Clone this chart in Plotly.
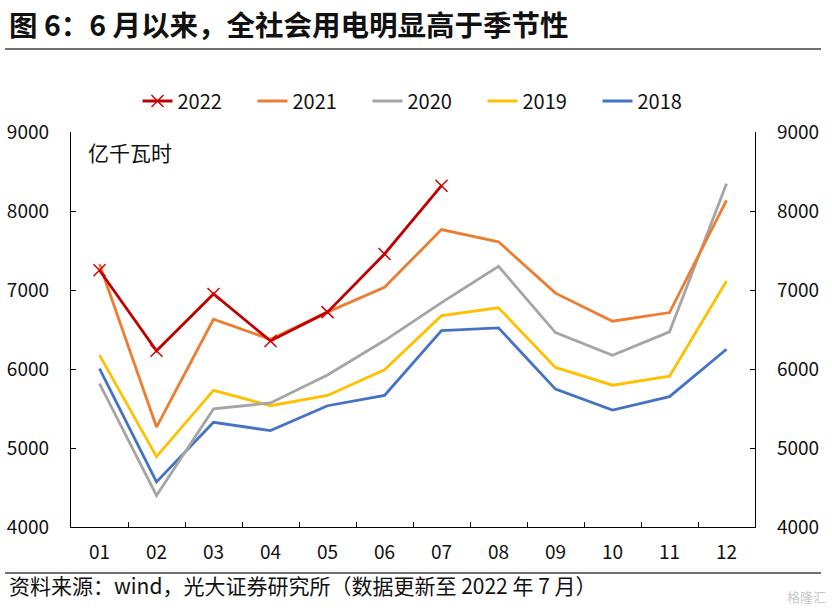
import plotly.graph_objects as go

months = ["01", "02", "03", "04", "05", "06", "07", "08", "09", "10", "11", "12"]
v2022 = [7250, 6230, 6950, 6355, 6720, 7456, 8320]
v2021 = [7330, 5265, 6630, 6375, 6720, 7035, 7765, 7610, 6960, 6605, 6715, 8135]
v2020 = [5815, 4400, 5495, 5570, 5925, 6360, 6840, 7300, 6460, 6175, 6470, 8345]
v2019 = [6175, 4890, 5730, 5535, 5665, 5990, 6675, 6775, 6020, 5795, 5910, 7115]
v2018 = [6005, 4570, 5325, 5220, 5535, 5665, 6485, 6520, 5745, 5480, 5650, 6250]

W, H = 832, 614
L, R, T, B = 71, 755, 132, 527
FONT = "Noto Sans CJK SC"


def px(x):
    return (x - L) / (R - L)


def py(y):
    return (B - y) / (B - T)


fig = go.Figure()
series = [
    ("2018", v2018, "#4472C4", 5),
    ("2019", v2019, "#FFC000", 4),
    ("2020", v2020, "#A5A5A5", 3),
    ("2021", v2021, "#ED7D31", 2),
]
for name, vals, col, rank in series:
    fig.add_trace(go.Scatter(
        x=months[:len(vals)], y=vals, name=name, mode="lines",
        line=dict(color=col, width=2.8), legendrank=rank))
fig.add_trace(go.Scatter(
    x=months[:len(v2022)], y=v2022, name="2022", mode="lines+markers",
    line=dict(color="#C00000", width=2.8),
    marker=dict(symbol="x-thin", size=12, line=dict(color="#D20000", width=1.5), color="#D20000"),
    legendrank=1))
fig.add_trace(go.Scatter(x=[], y=[], yaxis="y2", showlegend=False))

axis_common = dict(showline=True, linecolor="black", linewidth=1.3, ticks="inside",
                   ticklen=5, tickcolor="black", showgrid=False, zeroline=False,
                   tickfont=dict(family=FONT, size=19, color="#111111"))

fig.update_layout(
    width=W, height=H,
    margin=dict(l=L, r=W - R, t=T, b=H - B, autoexpand=False),
    paper_bgcolor="white", plot_bgcolor="white",
    showlegend=True,
    legend=dict(orientation="h", x=px(425), xanchor="center", y=1 + 31 / (B - T), yanchor="middle",
                font=dict(family=FONT, size=20, color="#111111"),
                entrywidth=70, entrywidthmode="pixels", bgcolor="rgba(0,0,0,0)"),
    xaxis=dict(type="category", range=[-0.5, 11.5], tickson="boundaries",
               ticklabelstandoff=8, **axis_common),
    yaxis=dict(range=[4000, 9000], dtick=1000, ticklabelstandoff=17, **axis_common),
    yaxis2=dict(range=[4000, 9000], dtick=1000, overlaying="y", side="right",
                ticklabelstandoff=17, **axis_common),
    shapes=[
        dict(type="line", xref="paper", yref="paper", x0=px(5), x1=px(821), y0=py(49), y1=py(49),
             line=dict(color="#404040", width=1.5)),
        dict(type="line", xref="paper", yref="paper", x0=px(5), x1=px(821), y0=py(573), y1=py(573),
             line=dict(color="#404040", width=1.5)),
    ],
    annotations=[
        dict(text="<b>图 6：6 月以来，全社会用电明显高于季节性</b>", xref="paper", yref="paper",
             x=px(7), y=py(23), xanchor="left", yanchor="middle", showarrow=False,
             font=dict(family=FONT, size=28.5, color="#111111")),
        dict(text="亿千瓦时", xref="paper", yref="paper", x=px(86), y=py(152),
             xanchor="left", yanchor="middle", showarrow=False,
             font=dict(family=FONT, size=21, color="#111111")),
        dict(text="资料来源：wind，光大证券研究所（数据更新至 2022 年 7 月）", xref="paper", yref="paper",
             x=px(7), y=py(585), xanchor="left", yanchor="middle", showarrow=False,
             font=dict(family=FONT, size=21, color="#111111")),
        dict(text="格隆汇", xref="paper", yref="paper", x=px(828), y=py(596),
             xanchor="right", yanchor="middle", showarrow=False,
             font=dict(family=FONT, size=13, color="#C8C8C8")),
    ],
)

fig.write_html("out.html", config={"displayModeBar": False},
               post_script="document.body.style.margin='0';document.body.style.overflow='hidden';")
